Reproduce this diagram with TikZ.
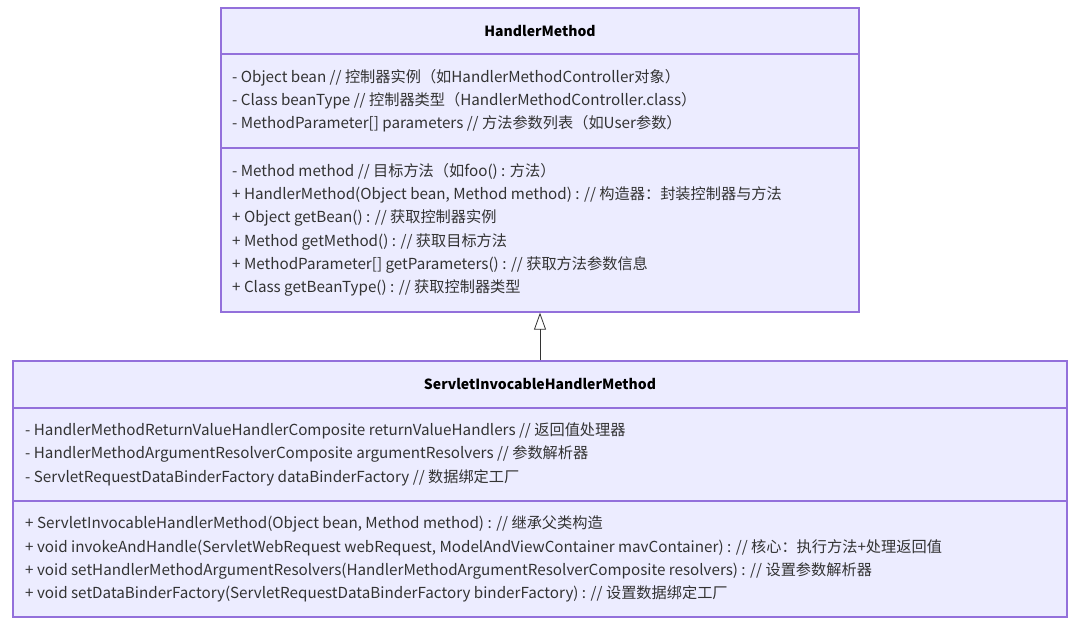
\documentclass[tikz,border=0pt]{standalone}
\usepackage{fontspec}
\setmainfont{Noto Sans CJK SC}
\usetikzlibrary{arrows.meta}
\definecolor{boxfill}{HTML}{ECECFF}
\definecolor{boxline}{HTML}{9370DB}
\definecolor{txt}{HTML}{333333}
\tikzset{
	classbox/.style={draw=boxline, fill=boxfill, line width=1.3pt, inner sep=0pt},
	divider/.style={draw=boxline, line width=1.3pt},
	title/.style={inner sep=0pt, text=black, font=\fontsize{14}{16}\selectfont\bfseries},
	member/.style={anchor=west, inner sep=0pt, text height=11pt, text depth=3pt, text=txt, font=\fontsize{15.2}{17}\selectfont},
	inherit/.style={-{Triangle[open, length=17pt, width=12pt]}, line width=0.8pt, draw=txt}
}
\begin{document}
\begin{tikzpicture}[x=1pt, y=-1pt]
			\useasboundingbox (0, 0) rectangle (1081, 626);
			% HandlerMethod
			\node[classbox, minimum width=638pt, minimum height=304pt] (hm) at (540, 160) {};
			\draw[divider] (221, 54) -- (859, 54);
			\draw[divider] (221, 148) -- (859, 148);
			\node[title] (hm-name) at (540, 31) {HandlerMethod};
			\node[member] (hm-a1) at (232, 78) {- Object bean // 控制器实例（如HandlerMethodController对象）};
			\node[member] (hm-a2) at (232, 101) {- Class beanType // 控制器类型（HandlerMethodController.class）};
			\node[member] (hm-a3) at (232, 124) {- MethodParameter[] parameters // 方法参数列表（如User参数）};
			\node[member] (hm-m1) at (232, 172) {- Method method // 目标方法（如foo() : 方法）};
			\node[member] (hm-m2) at (232, 195) {+ HandlerMethod(Object bean, Method method) : // 构造器：封装控制器与方法};
			\node[member] (hm-m3) at (232, 218) {+ Object getBean() : // 获取控制器实例};
			\node[member] (hm-m4) at (232, 242) {+ Method getMethod() : // 获取目标方法};
			\node[member] (hm-m5) at (232, 265) {+ MethodParameter[] getParameters() : // 获取方法参数信息};
			\node[member] (hm-m6) at (232, 288) {+ Class getBeanType() : // 获取控制器类型};
			% ServletInvocableHandlerMethod
			\node[classbox, minimum width=1054pt, minimum height=256pt] (sihm) at (540, 489) {};
			\draw[divider] (13, 408) -- (1067, 408);
			\draw[divider] (13, 501) -- (1067, 501);
			\node[title] (sihm-name) at (540, 384) {ServletInvocableHandlerMethod};
			\node[member] (sihm-a1) at (25, 431) {- HandlerMethodReturnValueHandlerComposite returnValueHandlers // 返回值处理器};
			\node[member] (sihm-a2) at (25, 454) {- HandlerMethodArgumentResolverComposite argumentResolvers // 参数解析器};
			\node[member] (sihm-a3) at (25, 478) {- ServletRequestDataBinderFactory dataBinderFactory // 数据绑定工厂};
			\node[member] (sihm-m1) at (25, 524) {+ ServletInvocableHandlerMethod(Object bean, Method method) : // 继承父类构造};
			\node[member] (sihm-m2) at (25, 548) {+ void invokeAndHandle(ServletWebRequest webRequest, ModelAndViewContainer mavContainer) : // 核心：执行方法+处理返回值};
			\node[member] (sihm-m3) at (25, 571) {+ void setHandlerMethodArgumentResolvers(HandlerMethodArgumentResolverComposite resolvers) : // 设置参数解析器};
			\node[member] (sihm-m4) at (25, 594) {+ void setDataBinderFactory(ServletRequestDataBinderFactory binderFactory) : // 设置数据绑定工厂};
			% inheritance
			\draw[inherit] (sihm.north) -- (hm.south);
		\end{tikzpicture}
\end{document}
